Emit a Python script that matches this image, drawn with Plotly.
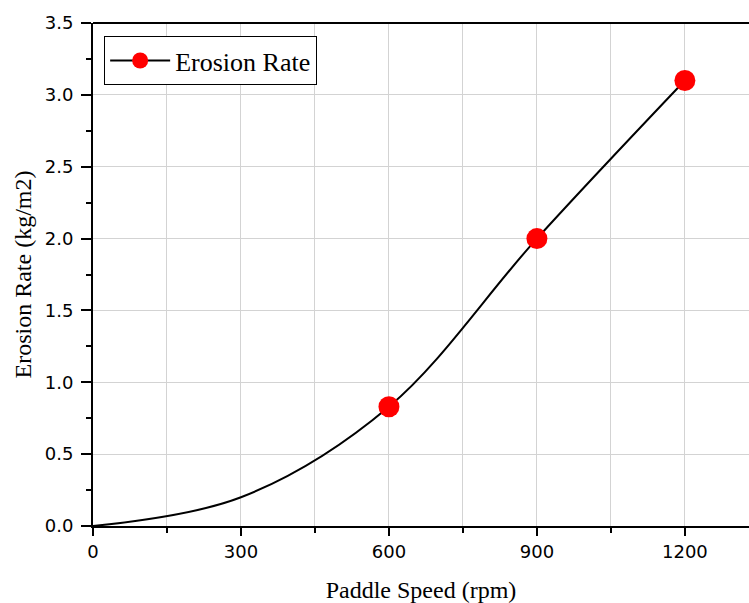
import plotly.graph_objects as go

# Data
paddle_speed = [0, 300, 600, 900, 1200]
erosion_rate = [0.0, 0.2, 0.83, 2.0, 3.1]
marker_speed = [600, 900, 1200]
marker_rate = [0.83, 2.0, 3.1]
x_ticks = [0, 300, 600, 900, 1200]
y_ticks = [0.0, 0.5, 1.0, 1.5, 2.0, 2.5, 3.0, 3.5]

fig = go.Figure()
fig.add_trace(go.Scatter(
    x=paddle_speed, y=erosion_rate,
    mode="lines", showlegend=False, hoverinfo="skip",
    line=dict(color="black", width=2, shape="spline", smoothing=1.0),
))
fig.add_trace(go.Scatter(
    x=marker_speed, y=marker_rate,
    mode="markers", showlegend=False,
    marker=dict(color="red", size=21, opacity=1, line=dict(width=0)),
))
# legend entry
fig.add_trace(go.Scatter(
    x=[None], y=[None], mode="lines+markers", name="Erosion Rate",
    line=dict(color="black", width=2),
    marker=dict(color="red", size=20, opacity=1, line=dict(width=0)),
))

axis_common = dict(
    showline=True, linecolor="black", linewidth=2,
    ticks="outside", tickwidth=2, tickcolor="black",
    showgrid=True, gridcolor="#d3d3d3", gridwidth=1,
    zeroline=False, automargin=False,
    tickfont=dict(family="DejaVu Sans", size=18, color="black"),
)

fig.update_xaxes(
    **axis_common,
    ticklen=8,
    range=[0, 1330], tickvals=x_ticks, ticktext=[str(v) for v in x_ticks],
    minor=dict(dtick=150, tick0=0, ticks="outside", ticklen=5, tickwidth=2,
               tickcolor="black", showgrid=True, gridcolor="#d3d3d3", gridwidth=1),
    title=dict(text="Paddle Speed (rpm)", font=dict(family="Liberation Serif", size=24, color="black"),
               standoff=21),
)
fig.update_yaxes(
    **axis_common,
    ticklen=10, ticklabelstandoff=4,
    range=[0, 3.5], tickvals=y_ticks, ticktext=[f"{v:.1f}" for v in y_ticks],
    minor=dict(dtick=0.25, tick0=0, ticks="outside", ticklen=5, tickwidth=2,
               tickcolor="black", showgrid=False),
    title=dict(text="Erosion Rate (kg/m2)", font=dict(family="Liberation Serif", size=24, color="black"),
               standoff=6),
)

# top frame line
fig.add_shape(type="line", xref="paper", yref="paper", x0=0, x1=1, y0=1, y1=1,
              line=dict(color="black", width=2))

fig.update_layout(
    width=749, height=603,
    margin=dict(l=93, r=0, t=23, b=77),
    plot_bgcolor="white", paper_bgcolor="white",
    showlegend=True,
    legend=dict(x=0.017, y=0.974, xanchor="left", yanchor="top",
                bordercolor="black", borderwidth=1, bgcolor="white",
                font=dict(family="Liberation Serif", size=26, color="black"),
                itemwidth=60, itemsizing="trace", tracegroupgap=0),
)

fig.write_html("out.html",
               config={"displayModeBar": False},
               post_script="document.body.style.margin='0px';document.body.style.padding='0px';")
